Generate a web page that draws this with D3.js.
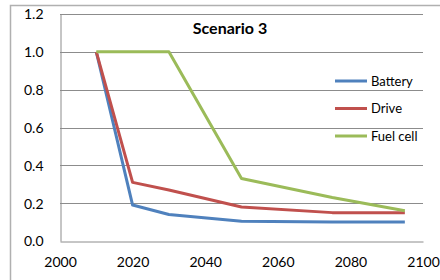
<!DOCTYPE html>
<html>
<head>
<meta charset="utf-8">
<script src="https://cdn.jsdelivr.net/npm/d3@7"></script>
<style>
  body { margin: 0; background: #fff; }
  text { font-family: Lato, "Open Sans", sans-serif; fill: #000; }
</style>
</head>
<body>
<div id="chart"></div>
<script>
// the values
const years = [2010, 2020, 2030, 2050, 2075, 2095];
const battery = [1.0, 0.19, 0.14, 0.105, 0.10, 0.10];
const drive = [1.0, 0.31, 0.27, 0.18, 0.15, 0.15];
const fuelCell = [1.0, 1.0, 1.0, 0.33, 0.23, 0.16];
const seriesNames = ["Battery", "Drive", "Fuel cell"];
const seriesColors = ["#4F81BD", "#C0504D", "#9BBB59"];
const xTicks = [2000, 2020, 2040, 2060, 2080, 2100];
const yTicks = [0, 0.2, 0.4, 0.6, 0.8, 1.0, 1.2];

const W = 440, H = 280;
// plot box (top is taken by window.top, so prefix them)
const plotLeft = 60, plotRight = 423, plotTop = 14, plotBottom = 241;

const svg = d3.select("#chart").append("svg")
  .attr("width", W).attr("height", H);

// outer chart border, right and bottom edges run off the picture
svg.append("rect")
  .attr("x", 10.5).attr("y", 5.5)
  .attr("width", 440).attr("height", 290)
  .attr("fill", "none").attr("stroke", "#b0b0b0").attr("stroke-width", 1.5);

const x = d3.scaleLinear().domain([2000, 2100]).range([plotLeft, plotRight]);
const y = d3.scaleLinear().domain([0, 1.2]).range([plotBottom, plotTop]);

// gridlines
svg.append("g").selectAll("line")
  .data(yTicks.filter(d => d > 0))
  .join("line")
  .attr("x1", plotLeft).attr("x2", plotRight)
  .attr("y1", d => Math.round(y(d)) + 0.5).attr("y2", d => Math.round(y(d)) + 0.5)
  .attr("stroke", "#8c8c8c").attr("stroke-width", 1);

// y axis
const yAxis = svg.append("g")
  .attr("transform", `translate(${plotLeft + 0.5},0)`)
  .call(d3.axisLeft(y).tickValues(yTicks).tickFormat(d3.format(".1f")).tickSize(0).tickPadding(17));
yAxis.select(".domain").attr("stroke", "#8c8c8c");
yAxis.selectAll("text").attr("font-size", 14).attr("dy", "0.35em");

// x axis
const xAxis = svg.append("g")
  .attr("transform", `translate(0,${plotBottom + 0.5})`)
  .call(d3.axisBottom(x).tickValues(xTicks).tickFormat(d3.format("d")).tickSize(0).tickPadding(16));
xAxis.select(".domain").attr("stroke", "#8c8c8c");
xAxis.selectAll("text").attr("font-size", 14);

// the three lines
const allSeries = [battery, drive, fuelCell];
const line = d3.line()
  .x((d, i) => x(years[i]))
  .y(d => y(d));

svg.append("g").selectAll("path")
  .data(allSeries)
  .join("path")
  .attr("d", d => line(d))
  .attr("fill", "none")
  .attr("stroke", (d, i) => seriesColors[i])
  .attr("stroke-width", 3)
  .attr("stroke-linejoin", "round");

// title
svg.append("text")
  .attr("x", 230).attr("y", 34)
  .attr("text-anchor", "middle")
  .attr("font-size", 16).attr("font-weight", "bold")
  .text("Scenario 3");

// legend
const legend = svg.append("g").selectAll("g")
  .data(seriesNames)
  .join("g")
  .attr("transform", (d, i) => `translate(335,${81 + i * 27.5})`);
legend.append("line")
  .attr("x1", 0).attr("x2", 32)
  .attr("stroke", (d, i) => seriesColors[i]).attr("stroke-width", 3);
legend.append("text")
  .attr("x", 36).attr("dy", "0.35em")
  .attr("font-size", 13)
  .text(d => d);
</script>
</body>
</html>
